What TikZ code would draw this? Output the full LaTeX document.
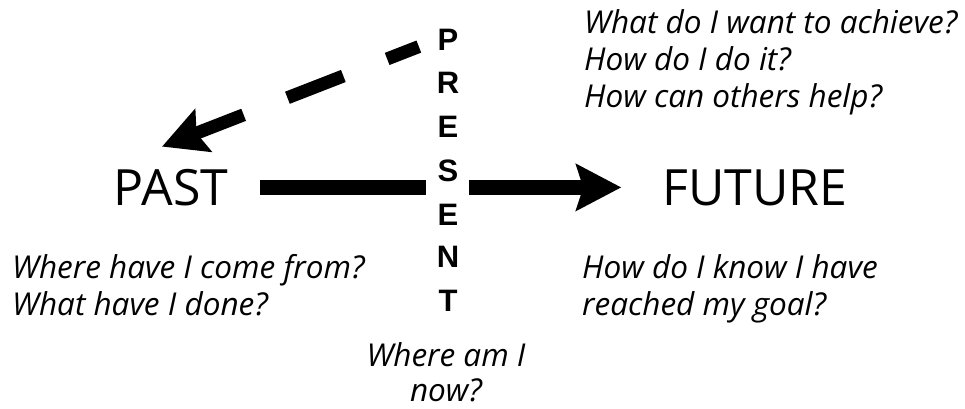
\documentclass[tikz,border=0pt]{standalone}
\usepackage{fontspec}
\setmainfont{Open Sans}
\newfontfamily\presentfont{Liberation Sans}
\usetikzlibrary{arrows.meta}

\tikzstyle{time-label}=[inner sep=0pt, anchor=base, font=\fontsize{50}{60}\selectfont]
\tikzstyle{present-letter}=[inner sep=0pt, anchor=base, font=\presentfont\bfseries\fontsize{31}{31}\selectfont]
\tikzstyle{question}=[inner sep=0pt, anchor=base west, align=left, font=\itshape\fontsize{31.5}{37}\selectfont]
\tikzstyle{time-bar}=[line width=15pt]
\tikzstyle{time-arrow}=[line width=15pt, -{Stealth[length=45pt, width=46pt, inset=7pt]}]
\tikzstyle{dash-arrow}=[line width=13pt, dash pattern=on 34pt off 47pt on 60pt off 47pt on 300pt,
      -{Stealth[length=44pt, width=45pt, inset=7pt]}]

\begin{document}
\begin{tikzpicture}[x=1pt, y=-1pt]
      \useasboundingbox (0,0) rectangle (965,408);

      \node (past) at (171, 205) [time-label] {PAST};
      \node (future) at (755, 205) [time-label] {FUTURE};

      \node (presP) at (448, 50) [present-letter] {P};
      \node (presR) at (448, 93) [present-letter] {R};
      \node (presE1) at (448, 137) [present-letter] {E};
      \node (presS) at (448, 181) [present-letter] {S};
      \node (presE2) at (448, 225) [present-letter] {E};
      \node (presN) at (448, 267) [present-letter] {N};
      \node (presT) at (448, 311) [present-letter] {T};

      % base anchor of a multi-line node sits on its last line
      \node (future-goals) at (584, 107) [question]
            {What do I want to achieve?\\How do I do it?\\How can others help?};
      \node (past-q) at (12, 315) [question]
            {Where have I come from?\\What have I done?};
      \node (future-q) at (582, 315) [question]
            {How do I know I have\\reached my goal?};
      \node (now-q) at (446, 401) [question, anchor=base, align=center, font=\itshape\fontsize{31.5}{35}\selectfont]
            {Where am I\\now?};

      \coordinate (past-tip) at ([xshift=-9pt, yshift=22pt]past.north);

      \draw[time-bar, shorten <=32pt, shorten >=11pt] (past.east) -- (presS.west |- past.east);
      \draw[time-arrow, shorten <=10pt, shorten >=41pt] (presS.east |- future.west) -- (future.west);
      \draw[dash-arrow, shorten <=20pt] (presP.west) -- (past-tip);
\end{tikzpicture}
\end{document}
